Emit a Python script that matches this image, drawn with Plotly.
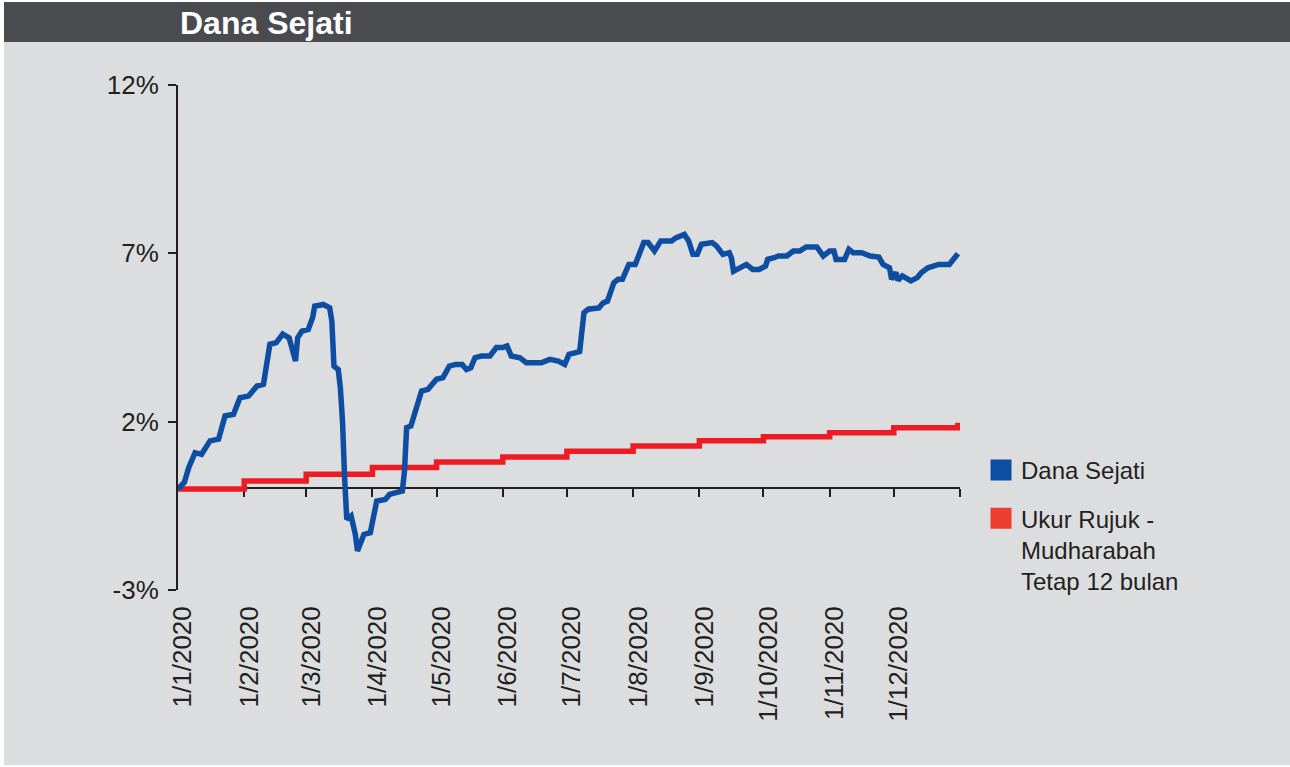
import plotly.graph_objects as go

# ---------------- data ----------------
fund_name = "Dana Sejati"
bench_name = "Ukur Rujuk -<br>Mudharabah<br>Tetap 12 bulan"

fund_dates = [
    "2020-01-01", "2020-01-04", "2020-01-06", "2020-01-09", "2020-01-12", "2020-01-16",
    "2020-01-20", "2020-01-23", "2020-01-27", "2020-01-30", "2020-02-03", "2020-02-07",
    "2020-02-10", "2020-02-13", "2020-02-16", "2020-02-19", "2020-02-22", "2020-02-25",
    "2020-02-26", "2020-02-28", "2020-03-02", "2020-03-04", "2020-03-05", "2020-03-09",
    "2020-03-12", "2020-03-13", "2020-03-14", "2020-03-16", "2020-03-17", "2020-03-18",
    "2020-03-19", "2020-03-20", "2020-03-22", "2020-03-24", "2020-03-25", "2020-03-28",
    "2020-03-31", "2020-04-03", "2020-04-07", "2020-04-09", "2020-04-12", "2020-04-15",
    "2020-04-16", "2020-04-17", "2020-04-19", "2020-04-21", "2020-04-24", "2020-04-27",
    "2020-05-01", "2020-05-04", "2020-05-07", "2020-05-10", "2020-05-13", "2020-05-15",
    "2020-05-17", "2020-05-19", "2020-05-22", "2020-05-26", "2020-05-29", "2020-06-01",
    "2020-06-03", "2020-06-05", "2020-06-09", "2020-06-12", "2020-06-15", "2020-06-19",
    "2020-06-23", "2020-06-27", "2020-06-30", "2020-07-02", "2020-07-07", "2020-07-08",
    "2020-07-09", "2020-07-11", "2020-07-16", "2020-07-18", "2020-07-20", "2020-07-23",
    "2020-07-25", "2020-07-27", "2020-07-30", "2020-08-02", "2020-08-06", "2020-08-08",
    "2020-08-11", "2020-08-14", "2020-08-19", "2020-08-21", "2020-08-25", "2020-08-27",
    "2020-08-29", "2020-08-31", "2020-09-02", "2020-09-07", "2020-09-09", "2020-09-12",
    "2020-09-15", "2020-09-16", "2020-09-17", "2020-09-20", "2020-09-23", "2020-09-26",
    "2020-09-29", "2020-10-02", "2020-10-03", "2020-10-06", "2020-10-08", "2020-10-12",
    "2020-10-15", "2020-10-18", "2020-10-21", "2020-10-26", "2020-10-29", "2020-11-01",
    "2020-11-03", "2020-11-04", "2020-11-08", "2020-11-10", "2020-11-12", "2020-11-16",
    "2020-11-20", "2020-11-24", "2020-11-26", "2020-11-29", "2020-11-30", "2020-12-02",
    "2020-12-03", "2020-12-05", "2020-12-09", "2020-12-12", "2020-12-14", "2020-12-17",
    "2020-12-22", "2020-12-27", "2020-12-29", "2020-12-31",
]
fund_values = [
    0.00, 0.20, 0.63, 1.08, 1.03, 1.43,
    1.48, 2.17, 2.22, 2.71, 2.76, 3.06,
    3.11, 4.30, 4.35, 4.60, 4.49, 3.80,
    4.49, 4.69, 4.74, 5.09, 5.43, 5.48,
    5.38, 4.99, 3.65, 3.55, 3.00, 2.00,
    0.30, -0.90, -0.80, -1.35, -1.84, -1.35,
    -1.30, -0.36, -0.31, -0.16, -0.11, -0.06,
    0.53, 1.82, 1.87, 2.32, 2.91, 2.96,
    3.26, 3.31, 3.65, 3.70, 3.70, 3.55,
    3.60, 3.90, 3.95, 3.95, 4.20, 4.20,
    4.25, 3.95, 3.90, 3.75, 3.75, 3.75,
    3.85, 3.80, 3.70, 4.00, 4.08, 4.70,
    5.24, 5.34, 5.38, 5.53, 5.58, 6.13,
    6.23, 6.23, 6.67, 6.67, 7.32, 7.32,
    7.07, 7.37, 7.37, 7.46, 7.56, 7.37,
    6.97, 6.97, 7.27, 7.32, 7.22, 6.97,
    7.02, 6.87, 6.47, 6.57, 6.67, 6.52,
    6.52, 6.62, 6.82, 6.87, 6.92, 6.92,
    7.07, 7.07, 7.19, 7.19, 6.92, 7.07,
    7.07, 6.82, 6.82, 7.12, 7.02, 7.02,
    6.92, 6.89, 6.67, 6.57, 6.23, 6.43,
    6.20, 6.33, 6.18, 6.28, 6.43, 6.57,
    6.67, 6.67, 6.82, 6.99,
]

bench_dates = [
    "2020-01-01", "2020-02-01", "2020-03-01", "2020-04-01", "2020-05-01", "2020-06-01",
    "2020-07-01", "2020-08-01", "2020-09-01", "2020-10-01", "2020-11-01", "2020-12-01",
    "2020-12-31",
]
bench_values = [0.00, 0.24, 0.44, 0.64, 0.80, 0.95, 1.12, 1.28, 1.43, 1.55, 1.67, 1.82, 1.97]

month_ticks = [
    "2020-01-01", "2020-02-01", "2020-03-01", "2020-04-01", "2020-05-01", "2020-06-01",
    "2020-07-01", "2020-08-01", "2020-09-01", "2020-10-01", "2020-11-01", "2020-12-01",
]
month_labels = [
    "1/1/2020", "1/2/2020", "1/3/2020", "1/4/2020", "1/5/2020", "1/6/2020",
    "1/7/2020", "1/8/2020", "1/9/2020", "1/10/2020", "1/11/2020", "1/12/2020",
]
zero_ticks = month_ticks[1:] + ["2021-01-01"]
x_range = ["2020-01-01", "2021-01-01"]

y_ticks = [-3, 2, 7, 12]
y_labels = ["-3%", "2%", "7%", "12%"]
y_range = [-3, 12]

# ---------------- styling ----------------
W, H = 1290, 767
L, R, T, B = 178, 960, 85, 590   # plot area in pixels
FONT = "Liberation Sans, Arial, Helvetica, sans-serif"
TXT = "#231F20"
AX = "#231F20"
BLUE = "#0D4EA2"
RED = "#ED1C24"
RED_KEY = "#EE3D33"
GREY = "#DCDDDF"
DARK = "#4A4B4E"


def px(xp):
    return (xp - L) / (R - L)


def py(yp):
    return (B - yp) / (B - T)


fig = go.Figure()

fig.add_trace(go.Scatter(
    x=bench_dates, y=bench_values, mode="lines", line=dict(color=RED, width=5.5, shape="hv"),
    showlegend=False, xaxis="x", yaxis="y", hoverinfo="skip"))
fig.add_trace(go.Scatter(
    x=fund_dates, y=fund_values, mode="lines", line=dict(color=BLUE, width=5.5),
    showlegend=False, xaxis="x2", yaxis="y", hoverinfo="skip"))

# legend keys
fig.add_trace(go.Scatter(
    x=[None], y=[None], mode="markers", name=fund_name, legendgroup="a",
    marker=dict(symbol="square", size=16, color=BLUE, line=dict(color=BLUE, width=5))))
fig.add_trace(go.Scatter(
    x=[None], y=[None], mode="markers", name=bench_name, legendgroup="b",
    marker=dict(symbol="square", size=16, color=RED_KEY, line=dict(color=RED_KEY, width=5))))

shapes = [
    dict(type="rect", xref="paper", yref="paper", x0=px(4), x1=px(W), y0=py(765), y1=py(42),
         fillcolor=GREY, line=dict(width=0), layer="below"),
    dict(type="rect", xref="paper", yref="paper", x0=px(4), x1=px(W), y0=py(42), y1=py(2),
         fillcolor=DARK, line=dict(width=0), layer="below"),
]

fig.update_layout(
    width=W, height=H, autosize=False,
    margin=dict(l=L, r=W - R, t=T, b=H - B, pad=0),
    paper_bgcolor="white", plot_bgcolor="white",
    font=dict(family=FONT, color=TXT, size=24),
    shapes=shapes,
    showlegend=True,
    legend=dict(x=px(981), y=py(448), xanchor="left", yanchor="top", bgcolor="rgba(0,0,0,0)",
                font=dict(family=FONT, size=24, color=TXT), valign="top",
                tracegroupgap=14, itemclick=False),
    annotations=[dict(text="<b>Dana Sejati</b>", xref="paper", yref="paper", x=px(178), y=py(23),
                      xanchor="left", yanchor="middle", showarrow=False,
                      font=dict(family=FONT, size=32, color="white"))],
    xaxis=dict(range=x_range, type="date", tickmode="array", tickvals=month_ticks, ticktext=month_labels,
               tickangle=-90, ticks="", showline=False, showgrid=False, zeroline=False,
               tickfont=dict(family=FONT, size=26, color=TXT), ticklabelstandoff=10,
               ticklabelshift=5, fixedrange=True),
    xaxis2=dict(range=x_range, type="date", overlaying="x", anchor="free", position=py(488),
                tickmode="array", tickvals=zero_ticks, showticklabels=False, ticks="outside",
                ticklen=8, tickwidth=2, tickcolor=AX, showline=True, linewidth=2, linecolor=AX,
                showgrid=False, zeroline=False, layer="below traces", side="bottom"),
    yaxis=dict(range=y_range, tickmode="array", tickvals=y_ticks, ticktext=y_labels,
               ticks="outside", ticklen=8, tickwidth=2, tickcolor=AX, showline=True, linewidth=2,
               linecolor=AX, showgrid=False, zeroline=False,
               tickfont=dict(family=FONT, size=26, color=TXT), ticklabelstandoff=4,
               layer="below traces"),
)

# the page's default 8px body margin would shift the figure; remove it
fig.write_html("out.html", config={"displayModeBar": False},
               post_script="document.body.style.margin='0px';")
